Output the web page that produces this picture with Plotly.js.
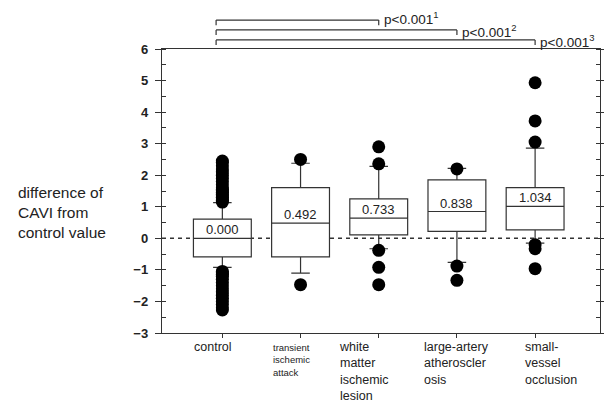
<!DOCTYPE html>
<html>
<head>
<meta charset="utf-8">
<script src="https://cdn.plot.ly/plotly-3.0.1.min.js"></script>
<style>html,body{margin:0;padding:0;background:#fff;}#chart{width:604px;height:406px;}</style>
</head>
<body>
<div id="chart"></div>
<script>
// ---- data ----
var categories = ["control", "transient ischemic attack", "white matter ischemic lesion", "large-artery atherosclerosis", "small-vessel occlusion"];
var q1Values     = [-0.59, -0.59, 0.11, 0.22, 0.27];
var medianValues = [0.00, 0.48, 0.64, 0.85, 1.01];
var q3Values     = [0.61, 1.61, 1.25, 1.85, 1.61];
var lowerFence   = [-0.92, -1.10, -0.33, -0.76, -0.15];
var upperFence   = [1.13, 2.38, 2.28, 2.22, 2.86];
var medianLabels = ["0.000", "0.492", "0.733", "0.838", "1.034"];

var controlOutliers = [1.15, 1.2, 1.25, 1.3, 1.35, 1.4, 1.45, 1.5, 1.55, 1.6, 1.7, 1.8, 1.9, 2.0, 2.1, 2.2, 2.3, 2.4, 2.45,
                       -1.05, -1.1, -1.15, -1.2, -1.3, -1.4, -1.5, -1.6, -1.7, -1.8, -1.9, -2.0, -2.1, -2.2, -2.27];
var tiaOutliers = [2.5, -1.47];
var wmlOutliers = [2.9, 2.36, -0.38, -0.92, -1.47];
var laaOutliers = [2.2, -0.88, -1.33];
var svoOutliers = [4.93, 3.72, 3.05, -0.2, -0.33, -0.96];

var tickLabelLines = [["control"], ["transient", "ischemic", "attack"], ["white", "matter", "ischemic", "lesion"],
                      ["large-artery", "atheroscler", "osis"], ["small-", "vessel", "occlusion"]];
var yTitleLines = ["difference of", "CAVI from", "control value"];
var pLabels = ["p&lt;0.001<sup>1</sup>", "p&lt;0.001<sup>2</sup>", "p&lt;0.001<sup>3</sup>"];
var bracketTargets = [2, 3, 4];

// ---- build traces ----
var outlierGroups = [controlOutliers, tiaOutliers, wmlOutliers, laaOutliers, svoOutliers];
var ox = [], oy = [];
outlierGroups.forEach(function (g, i) { g.forEach(function (v) { ox.push(categories[i]); oy.push(v); }); });

var boxTrace = {
  type: "box", x: categories, q1: q1Values, median: medianValues, q3: q3Values,
  lowerfence: lowerFence, upperfence: upperFence,
  boxpoints: false, width: 0.74, whiskerwidth: 0.32,
  fillcolor: "#ffffff", line: {color: "#333333", width: 1.2},
  hoverinfo: "skip", showlegend: false
};
var outTrace = {
  type: "scatter", mode: "markers", x: ox, y: oy,
  marker: {color: "#000000", size: 13, line: {width: 0}},
  hoverinfo: "skip", showlegend: false
};

var FONT = "Arial, 'Liberation Sans', sans-serif";
var annotations = [];
// median labels
categories.forEach(function (c, i) {
  annotations.push({x: c, y: medianValues[i], xref: "x", yref: "y", text: medianLabels[i],
    showarrow: false, yanchor: "bottom", xanchor: "center", yshift: -1,
    font: {family: FONT, size: 13, color: "#222"}});
});
// category tick labels (left aligned, multi line)
var labelShift = [-30, -30, -42, -35, -12];
categories.forEach(function (c, i) {
  var small = (i === 1);
  annotations.push({x: c, y: 0, xref: "x", yref: "paper", text: tickLabelLines[i].join("<br>"),
    showarrow: false, align: "left", xanchor: "left", yanchor: "top", xshift: labelShift[i],
    yshift: small ? -7 : -5,
    font: {family: FONT, size: small ? 9.5 : 12.5, color: "#222"}});
});
// y title
annotations.push({x: -0.333, y: 0.426, xref: "paper", yref: "paper", text: yTitleLines.join("<br>"),
  showarrow: false, align: "left", xanchor: "left", yanchor: "middle",
  font: {family: FONT, size: 15.5, color: "#222"}});
// zero line + brackets
var shapes = [{type: "line", xref: "paper", yref: "y", x0: 0, x1: 1, y0: 0, y1: 0,
  line: {color: "#333", width: 1.5, dash: "4px,4px"}, layer: "below"}];
var bracketY = [1.102, 1.067, 1.032];
var labelY = [1.108, 1.064, 1.028];
var drop = 0.018;
bracketTargets.forEach(function (t, k) {
  var x0 = -0.08, x1 = t, y = bracketY[k];
  var ln = {color: "#333", width: 1.2};
  shapes.push({type: "line", xref: "x", yref: "paper", x0: x0, x1: x1, y0: y, y1: y, line: ln});
  shapes.push({type: "line", xref: "x", yref: "paper", x0: x0, x1: x0, y0: y, y1: y - drop, line: ln});
  shapes.push({type: "line", xref: "x", yref: "paper", x0: x1, x1: x1, y0: y, y1: y - drop, line: ln});
  annotations.push({x: categories[t], y: labelY[k], xref: "x", yref: "paper", text: pLabels[k],
    showarrow: false, xanchor: "left", yanchor: "middle", xshift: 3,
    font: {family: FONT, size: 13.5, color: "#222"}});
});

var layout = {
  width: 604, height: 406,
  margin: {l: 162, r: 4, t: 49, b: 73},
  paper_bgcolor: "#fff", plot_bgcolor: "#fff",
  showlegend: false,
  xaxis: {type: "category", range: [-0.772, 4.83], showgrid: false, zeroline: false,
    showline: true, linecolor: "#333", linewidth: 1.2, mirror: true,
    ticks: "outside", ticklen: 4, tickcolor: "#333", showticklabels: false},
  yaxis: {range: [-3, 6], dtick: 1, showgrid: false, zeroline: false,
    showline: true, linecolor: "#333", linewidth: 1.2, mirror: "ticks",
    ticks: "outside", ticklen: 6, tickcolor: "#333",
    minor: {dtick: 0.5, ticks: "inside", ticklen: 4, tickcolor: "#333", showgrid: false},
    tickfont: {family: FONT, size: 13, color: "#222", weight: "bold"}, ticklabelstandoff: 4},
  shapes: shapes,
  annotations: annotations
};

Plotly.newPlot("chart", [boxTrace, outTrace], layout, {staticPlot: true, displayModeBar: false});
</script>
</body>
</html>
